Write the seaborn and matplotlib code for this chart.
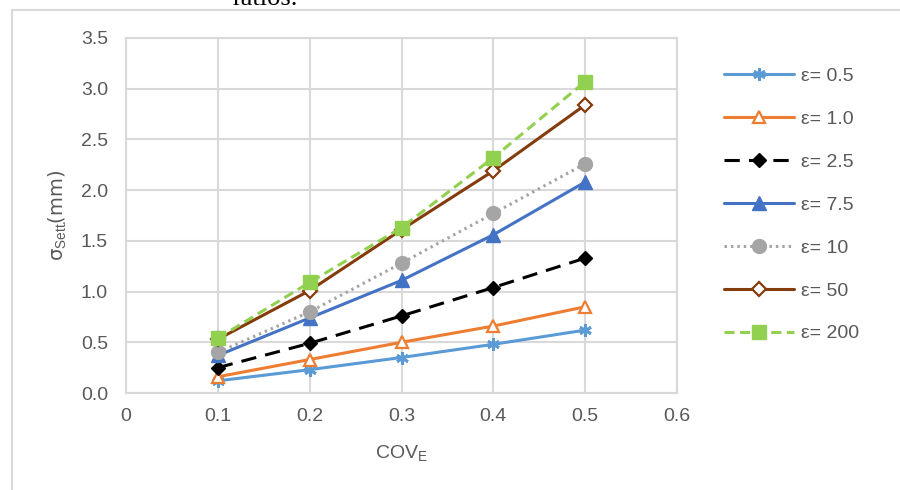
import matplotlib
matplotlib.use("Agg")
import matplotlib.pyplot as plt
import seaborn as sns
import pandas as pd

# data
cov_e = [0.1, 0.2, 0.3, 0.4, 0.5]
eps_labels = ["ε= 0.5", "ε= 1.0", "ε= 2.5", "ε= 7.5", "ε= 10", "ε= 50", "ε= 200"]
sett_eps_0_5 = [0.12, 0.23, 0.35, 0.48, 0.62]
sett_eps_1_0 = [0.16, 0.33, 0.50, 0.66, 0.85]
sett_eps_2_5 = [0.25, 0.49, 0.76, 1.04, 1.33]
sett_eps_7_5 = [0.37, 0.74, 1.11, 1.56, 2.08]
sett_eps_10 = [0.40, 0.80, 1.28, 1.77, 2.26]
sett_eps_50 = [0.53, 1.01, 1.61, 2.19, 2.84]
sett_eps_200 = [0.54, 1.09, 1.63, 2.32, 3.07]

SERIES = [sett_eps_0_5, sett_eps_1_0, sett_eps_2_5, sett_eps_7_5,
          sett_eps_10, sett_eps_50, sett_eps_200]

STYLES = {
    "ε= 0.5": dict(color="#5B9BD5", marker=(6, 2, 0), ms=9, mfc="#5B9BD5", mew=2, dashes=(None, None)),
    "ε= 1.0": dict(color="#ED7D31", marker="^", ms=9, mfc="white", mew=1.6, dashes=(None, None)),
    "ε= 2.5": dict(color="black", marker="D", ms=7.5, mfc="black", mew=1, dashes=(5, 3)),
    "ε= 7.5": dict(color="#4472C4", marker="^", ms=10, mfc="#4472C4", mew=1, dashes=(None, None)),
    "ε= 10": dict(color="#A5A5A5", marker="o", ms=10, mfc="#A5A5A5", mew=1, dashes=(0.8, 1.3)),
    "ε= 50": dict(color="#843C0C", marker="D", ms=7, mfc="white", mew=1.6, dashes=(None, None)),
    "ε= 200": dict(color="#92D050", marker="s", ms=10, mfc="#92D050", mew=1, dashes=(3.3, 1.8)),
}

df = pd.concat(
    [pd.DataFrame({"COV": cov_e, "sett": vals, "eps": lab}) for lab, vals in zip(eps_labels, SERIES)],
    ignore_index=True,
)

sns.set_style("white")
plt.rcParams["font.family"] = ["Liberation Sans", "DejaVu Sans"]
plt.rcParams["mathtext.fontset"] = "custom"
plt.rcParams["mathtext.rm"] = "Liberation Sans"
plt.rcParams["mathtext.it"] = "Liberation Sans"

GRID = "#D9D9D9"
TEXT = "#595959"
FS = 14

fig = plt.figure(figsize=(9, 4.9), dpi=100)
ax = fig.add_axes([126 / 900, 1 - 393 / 490, (677 - 126) / 900, (393 - 38) / 490])

for lab in eps_labels:
    st = STYLES[lab]
    sns.lineplot(
        data=df[df["eps"] == lab], x="COV", y="sett", ax=ax, label=lab,
        color=st["color"], marker=st["marker"], markersize=st["ms"],
        markerfacecolor=st["mfc"], markeredgecolor=st["color"], markeredgewidth=st["mew"],
        linewidth=2.2, dashes=st["dashes"], estimator=None, zorder=3,
    )

ax.set_xlim(0, 0.6)
ax.set_ylim(0, 3.5)
ax.set_xticks([0, 0.1, 0.2, 0.3, 0.4, 0.5, 0.6])
ax.set_xticklabels(["0", "0.1", "0.2", "0.3", "0.4", "0.5", "0.6"])
ax.set_yticks([i * 0.5 for i in range(8)])
ax.set_yticklabels([f"{i * 0.5:.1f}" for i in range(8)])
ax.grid(True, color=GRID, linewidth=1.5, zorder=0)
ax.set_axisbelow(True)
for sp in ax.spines.values():
    sp.set_color(GRID)
    sp.set_linewidth(1.5)
ax.tick_params(colors=TEXT, labelsize=FS, length=0)
ax.tick_params(axis="y", pad=13)
ax.tick_params(axis="x", pad=11)

ax.set_xlabel(r"COV$_{\mathrm{E}}$", color=TEXT, fontsize=FS, labelpad=13)
ax.set_ylabel(r"σ$_{\mathrm{Sett.}}\!\!$(mm)", color=TEXT, fontsize=FS, labelpad=9,
              family=["DejaVu Sans"])

leg = ax.legend(
    loc="center left", bbox_to_anchor=(706 / 900, 1 - 205 / 490), bbox_transform=fig.transFigure,
    frameon=False, fontsize=FS, handlelength=3.6, labelspacing=1.3, numpoints=1,
    handletextpad=0.4,
)
for t in leg.get_texts():
    t.set_color(TEXT)

# outer frame of the screenshot and the cut-off caption above it
fig.add_artist(plt.Line2D([12 / 900, 1], [1 - 10 / 490, 1 - 10 / 490], color=GRID, lw=1.5))
fig.add_artist(plt.Line2D([12 / 900, 12 / 900], [0, 1 - 10 / 490], color=GRID, lw=1.5))
fig.text(233 / 900, 1 - 5 / 490, "ratios.", family="Liberation Serif", fontsize=19,
         color="black", va="baseline")

fig.savefig("out.png", dpi=100)
